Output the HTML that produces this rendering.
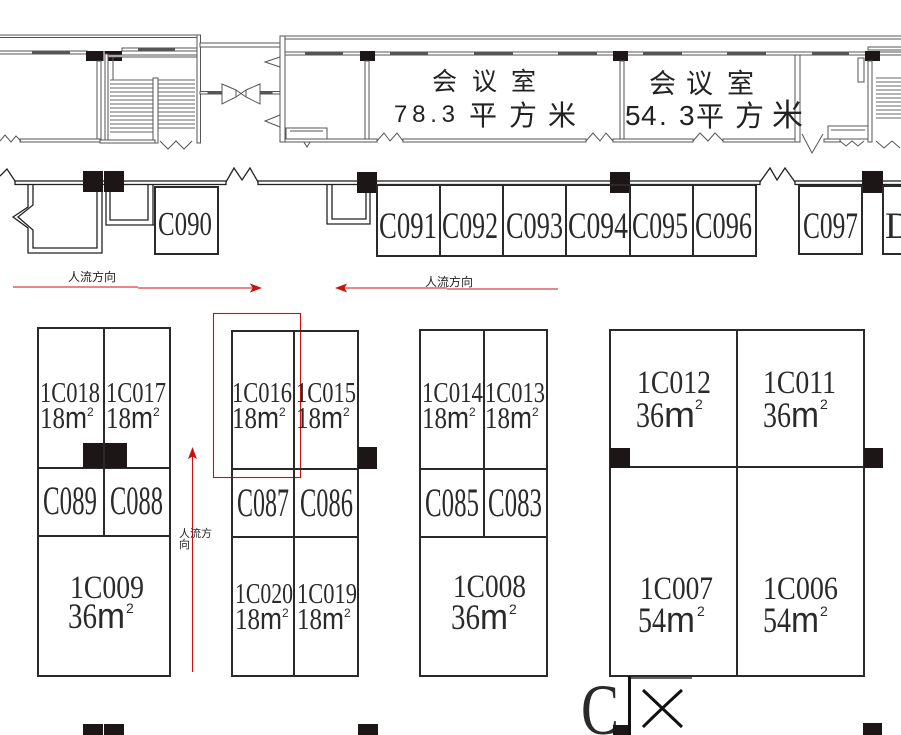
<!DOCTYPE html>
<html><head><meta charset="utf-8">
<style>
html,body{margin:0;padding:0;background:#fff;}
svg{display:block;}
.w{fill:#fff;stroke:#555;stroke-width:1;}
.wd{fill:#fff;stroke:#222;stroke-width:1.3;}
.ln{fill:none;stroke:#555;stroke-width:1;}
.lnd{fill:none;stroke:#222;stroke-width:1.3;}
.b{fill:none;stroke:#2a2a2a;stroke-width:2;}
.p{fill:#1c1616;}
.win{fill:#555;}
.t{font-family:"Liberation Serif",serif;fill:#2a2a2a;}
.s{font-family:"Liberation Sans",sans-serif;fill:#2a2a2a;}
.c{font-family:"Liberation Sans","Noto Sans CJK SC",sans-serif;fill:#222;}
.red{stroke:#cc1010;fill:none;stroke-width:1.1;}
.redf{fill:#cc1010;}
</style></head><body>
<svg width="901" height="735" viewBox="0 0 901 735" xmlns="http://www.w3.org/2000/svg">
<!-- ===== TOP BUILDING ===== -->
<rect class="w" x="-2" y="35" width="199" height="2.5"/>
<rect class="w" x="197" y="35" width="3.5" height="108"/>
<rect class="w" x="200" y="43" width="81" height="4"/>
<rect class="w" x="282" y="36" width="625" height="3"/>
<rect class="w" x="280" y="36" width="5" height="106"/>

<!-- inner wall with windows -->
<rect class="w" x="-2" y="51" width="89" height="3"/>
<rect class="win" x="32" y="51.5" width="38" height="2.5"/>
<rect class="w" x="122" y="48" width="75" height="3"/>
<rect class="win" x="138" y="48.5" width="37" height="2.5"/>
<rect class="w" x="285" y="52" width="620" height="3"/>
<rect class="win" x="305" y="52.5" width="38" height="2.5"/>
<rect class="win" x="390" y="52.5" width="38" height="2.5"/>
<rect class="win" x="474" y="52.5" width="39" height="2.5"/>
<rect class="win" x="558" y="52.5" width="39" height="2.5"/>
<rect class="win" x="643" y="52.5" width="39" height="2.5"/>
<rect class="win" x="727" y="52.5" width="39" height="2.5"/>
<rect class="win" x="812" y="52.5" width="37" height="2.5"/>
<rect class="w" x="868" y="47" width="40" height="3"/>

<!-- top pillars -->
<rect class="p" x="86" y="51" width="17.5" height="10"/>
<rect class="p" x="104.5" y="51" width="17.5" height="10"/>
<rect class="p" x="360" y="51" width="15" height="10"/>
<rect class="p" x="613" y="51" width="15" height="10"/>
<rect class="p" x="865" y="51" width="15" height="10"/>

<!-- top-left room -->
<rect class="w" x="97" y="61" width="4" height="81"/>
<rect class="w" x="20" y="139" width="81" height="3"/>
<polyline class="ln" points="0,141 5,135 11,142 16,136 21,141"/>

<!-- stairs left -->
<rect class="w" x="105" y="54" width="3" height="89"/>
<rect class="w" x="108" y="55" width="89" height="2"/>
<line class="ln" x1="113" y1="57" x2="113" y2="80"/>
<g stroke="#666" stroke-width="1">
<line x1="110" y1="80" x2="153" y2="80"/><line x1="110" y1="84" x2="153" y2="84"/><line x1="110" y1="88" x2="153" y2="88"/><line x1="110" y1="92" x2="153" y2="92"/><line x1="110" y1="96" x2="153" y2="96"/><line x1="110" y1="100" x2="153" y2="100"/><line x1="110" y1="104" x2="153" y2="104"/><line x1="110" y1="108" x2="153" y2="108"/><line x1="110" y1="112" x2="153" y2="112"/><line x1="110" y1="116" x2="153" y2="116"/><line x1="110" y1="120" x2="153" y2="120"/><line x1="110" y1="124" x2="153" y2="124"/><line x1="110" y1="128" x2="153" y2="128"/><line x1="110" y1="132" x2="153" y2="132"/>
<line x1="158" y1="80" x2="195" y2="80"/><line x1="158" y1="84" x2="195" y2="84"/><line x1="158" y1="88" x2="195" y2="88"/><line x1="158" y1="92" x2="195" y2="92"/><line x1="158" y1="96" x2="195" y2="96"/><line x1="158" y1="100" x2="195" y2="100"/><line x1="158" y1="104" x2="195" y2="104"/><line x1="158" y1="108" x2="195" y2="108"/><line x1="158" y1="112" x2="195" y2="112"/><line x1="158" y1="116" x2="195" y2="116"/><line x1="158" y1="120" x2="195" y2="120"/><line x1="158" y1="124" x2="195" y2="124"/><line x1="158" y1="128" x2="195" y2="128"/>
</g>
<rect class="w" x="153" y="78" width="5" height="65"/>
<rect class="w" x="100" y="140" width="55" height="3"/>
<polyline class="ln" points="160,141 168,149 176,141 184,149 192,141"/>

<!-- valve -->
<rect class="w" x="200" y="91.5" width="8" height="2.5"/>
<rect class="win" x="208" y="91" width="14" height="3.5"/>
<polygon class="ln" points="222,84 236,90 236,97 222,104"/>
<polygon class="ln" points="260,84 246,90 246,97 260,104"/>
<line class="ln" x1="236" y1="90" x2="246" y2="97"/>
<line class="ln" x1="236" y1="97" x2="246" y2="90"/>
<rect class="win" x="260" y="91" width="12" height="3.5"/>
<rect class="w" x="272" y="91.5" width="8" height="2.5"/>
<polyline class="ln" points="280,57 265,62 280,67"/>
<polyline class="ln" points="280,115 265,121 280,127"/>

<!-- room 78.3 -->
<rect class="w" x="365" y="61" width="4" height="80"/>
<rect class="w" x="286" y="128" width="41" height="11"/>
<line class="ln" x1="290" y1="131" x2="323" y2="131"/>
<polyline class="ln" points="302,139 307,147 312,139"/>
<rect class="w" x="285" y="139" width="92" height="3"/>
<polyline class="ln" points="377,141 384,133 390,141 397,133 403,141"/>
<rect class="w" x="403" y="139" width="183" height="3"/>
<polyline class="ln" points="586,141 593,133 600,141 606,133 613,141"/>
<rect class="w" x="620" y="61" width="4" height="80"/>
<rect class="w" x="613" y="139" width="80" height="3"/>
<polyline class="ln" points="693,141 700,133 708,141 715,133 723,141"/>
<rect class="w" x="723" y="139" width="77" height="3"/>
<rect class="w" x="795" y="55" width="5" height="87"/>
<polyline class="ln" points="802,134 812,153 823,134"/>
<rect class="w" x="824" y="139" width="16" height="3"/>
<polyline class="ln" points="840,141 846,146 852,141 858,146 864,141"/>
<rect class="w" x="828" y="126" width="40" height="13"/>
<line class="ln" x1="831" y1="130" x2="865" y2="130"/>
<rect class="w" x="858" y="58" width="6" height="24"/>
<rect class="w" x="868" y="61" width="4" height="81"/>
<g stroke="#666" stroke-width="1">
<line x1="876" y1="78" x2="901" y2="78"/><line x1="876" y1="82" x2="901" y2="82"/><line x1="876" y1="86" x2="901" y2="86"/><line x1="876" y1="90" x2="901" y2="90"/><line x1="876" y1="94" x2="901" y2="94"/><line x1="876" y1="98" x2="901" y2="98"/><line x1="876" y1="102" x2="901" y2="102"/><line x1="876" y1="106" x2="901" y2="106"/><line x1="876" y1="110" x2="901" y2="110"/><line x1="876" y1="114" x2="901" y2="114"/><line x1="876" y1="118" x2="901" y2="118"/>
</g>
<polyline class="ln" points="876,141 884,148 892,141 900,148"/>

<!-- room texts -->
<text class="c" x="432" y="90" font-size="25">会</text>
<text class="c" x="472" y="90" font-size="25">议</text>
<text class="c" x="511" y="90" font-size="25">室</text>
<text class="c" x="394" y="122" font-size="24" textLength="61" lengthAdjust="spacing">78.3</text>
<text class="c" x="469" y="125" font-size="28">平</text>
<text class="c" x="509" y="125" font-size="28">方</text>
<text class="c" x="548" y="125" font-size="28">米</text>
<text class="c" x="649" y="93" font-size="27">会</text>
<text class="c" x="686" y="93" font-size="27">议</text>
<text class="c" x="727" y="93" font-size="27">室</text>
<text class="c" x="625" y="125" font-size="28">5</text>
<text class="c" x="641" y="125" font-size="28">4</text>
<text class="c" x="659" y="125" font-size="28">.</text>
<text class="c" x="679" y="125" font-size="28">3</text>
<text class="c" x="696" y="126" font-size="28">平</text>
<text class="c" x="735" y="126" font-size="29">方</text>
<text class="c" x="772" y="126" font-size="31">米</text>

<!-- ===== CORRIDOR ===== -->
<polyline class="lnd" points="0,176 7,169 15,181"/>
<rect class="wd" x="15" y="181" width="211" height="3.5"/>
<polyline class="lnd" points="226,182 234,168 242,180 250,168 258,182"/>
<rect class="wd" x="258" y="181" width="502" height="3.5"/>
<polyline class="lnd" points="760,182 770,168 777,180 785,168 795,182"/>
<rect class="wd" x="795" y="181" width="112" height="3.5"/>

<!-- left corridor box -->
<path class="lnd" d="M28,185 V207 L13,217 L28,228 V253 H102 V185"/>
<path class="lnd" d="M33,185 V205 L18,217 L33,230 V248 H97 V185"/>
<path class="lnd" d="M106,185 V225 H155"/>
<path class="lnd" d="M110,185 V220 H148 V185"/>
<path class="lnd" d="M153,185 V225"/>
<path class="lnd" d="M327,185 V224 H370 V185"/>
<path class="lnd" d="M332,185 V219 H366 V185"/>

<rect class="p" x="83" y="171" width="20" height="21"/>
<rect class="p" x="104" y="171" width="20" height="21"/>
<rect class="p" x="357" y="172" width="20" height="21"/>
<rect class="p" x="610" y="172" width="20" height="21"/>
<rect class="p" x="862" y="171" width="21" height="22"/>

<!-- corridor booths -->
<rect class="b" x="155" y="187" width="63" height="67"/>
<rect class="b" x="377" y="185" width="379" height="71"/>
<line class="b" x1="440" y1="185" x2="440" y2="256"/>
<line class="b" x1="503" y1="185" x2="503" y2="256"/>
<line class="b" x1="566" y1="185" x2="566" y2="256"/>
<line class="b" x1="630" y1="185" x2="630" y2="256"/>
<line class="b" x1="693" y1="185" x2="693" y2="256"/>
<rect class="b" x="799" y="186" width="63" height="68"/>
<rect class="b" x="883" y="186" width="30" height="68"/>

<text class="t" x="158" y="235" font-size="34" textLength="54" lengthAdjust="spacingAndGlyphs">C090</text>
<text class="t" x="379" y="238" font-size="37" textLength="58" lengthAdjust="spacingAndGlyphs">C091</text>
<text class="t" x="442" y="238" font-size="37" textLength="56" lengthAdjust="spacingAndGlyphs">C092</text>
<text class="t" x="506" y="238" font-size="37" textLength="57" lengthAdjust="spacingAndGlyphs">C093</text>
<text class="t" x="568" y="238" font-size="37" textLength="60" lengthAdjust="spacingAndGlyphs">C094</text>
<text class="t" x="632" y="238" font-size="37" textLength="56" lengthAdjust="spacingAndGlyphs">C095</text>
<text class="t" x="695" y="238" font-size="37" textLength="57" lengthAdjust="spacingAndGlyphs">C096</text>
<text class="t" x="803" y="238" font-size="37" textLength="55" lengthAdjust="spacingAndGlyphs">C097</text>
<text class="t" x="885" y="238" font-size="37">D</text>

<!-- ===== FLOW ARROWS ===== -->
<text class="c" x="68" y="281" font-size="12">人流方向</text>
<path class="red" d="M13,287 H138 M138,288 H252"/>
<polygon class="redf" points="262,288 250,283.5 252.5,288 250,292.5"/>
<text class="c" x="425" y="286" font-size="12">人流方向</text>
<path class="red" d="M558,289 H447 M447,288 H343"/>
<polygon class="redf" points="335,288 347,283.5 344.5,288 347,292.5"/>
<path class="red" d="M192.5,672 V456"/>
<polygon class="redf" points="192.5,447 188,459 192.5,456.5 197,459"/>
<text class="c" x="179" y="537" font-size="11">人流方</text>
<text class="c" x="179" y="548" font-size="11">向</text>
<rect class="red" x="213.5" y="313.5" width="87" height="164"/>

<!-- ===== BOOTH BLOCKS ===== -->
<!-- block 1 -->
<rect class="b" x="38" y="328" width="132" height="348"/>
<line class="b" x1="104" y1="328" x2="104" y2="536"/>
<line class="b" x1="38" y1="468" x2="170" y2="468"/>
<line class="b" x1="38" y1="536" x2="170" y2="536"/>
<rect class="p" x="83" y="443" width="20" height="25"/>
<rect class="p" x="105" y="443" width="22" height="25"/>
<!-- block 2 -->
<rect class="b" x="232" y="331" width="126" height="345"/>
<line class="b" x1="294" y1="331" x2="294" y2="676"/>
<line class="b" x1="232" y1="469" x2="358" y2="469"/>
<line class="b" x1="232" y1="537" x2="358" y2="537"/>
<rect class="p" x="358" y="447" width="19" height="22"/>
<!-- block 3 -->
<rect class="b" x="420" y="330" width="127" height="346"/>
<line class="b" x1="484" y1="330" x2="484" y2="537"/>
<line class="b" x1="420" y1="469" x2="547" y2="469"/>
<line class="b" x1="420" y1="537" x2="547" y2="537"/>
<!-- block 4 -->
<rect class="b" x="610" y="330" width="254" height="346"/>
<line class="b" x1="737" y1="330" x2="737" y2="676"/>
<line class="b" x1="610" y1="467" x2="864" y2="467"/>
<rect class="p" x="610" y="448" width="20" height="20"/>
<rect class="p" x="864" y="448" width="19" height="20"/>

<!-- 18m2 labels -->
<g class="t" font-size="28">
<text x="40" y="402" textLength="60" lengthAdjust="spacingAndGlyphs">1C018</text>
<text x="106" y="402" textLength="60" lengthAdjust="spacingAndGlyphs">1C017</text>
<text x="232" y="402" textLength="60" lengthAdjust="spacingAndGlyphs">1C016</text>
<text x="296" y="402" textLength="60" lengthAdjust="spacingAndGlyphs">1C015</text>
<text x="422" y="402" textLength="61" lengthAdjust="spacingAndGlyphs">1C014</text>
<text x="485" y="402" textLength="60" lengthAdjust="spacingAndGlyphs">1C013</text>
<text x="235" y="603" textLength="58" lengthAdjust="spacingAndGlyphs">1C020</text>
<text x="297" y="603" textLength="60" lengthAdjust="spacingAndGlyphs">1C019</text>
</g>
<g font-size="31">
<text class="t" x="40" y="428" textLength="25" lengthAdjust="spacingAndGlyphs">18</text><text class="s" x="65" y="428" textLength="22" lengthAdjust="spacingAndGlyphs">m</text><text class="s" x="87" y="416" font-size="12">2</text>
<text class="t" x="106" y="428" textLength="25" lengthAdjust="spacingAndGlyphs">18</text><text class="s" x="131" y="428" textLength="22" lengthAdjust="spacingAndGlyphs">m</text><text class="s" x="153" y="416" font-size="12">2</text>
<text class="t" x="232" y="428" textLength="25" lengthAdjust="spacingAndGlyphs">18</text><text class="s" x="257" y="428" textLength="22" lengthAdjust="spacingAndGlyphs">m</text><text class="s" x="279" y="416" font-size="12">2</text>
<text class="t" x="296" y="428" textLength="25" lengthAdjust="spacingAndGlyphs">18</text><text class="s" x="321" y="428" textLength="22" lengthAdjust="spacingAndGlyphs">m</text><text class="s" x="343" y="416" font-size="12">2</text>
<text class="t" x="422" y="428" textLength="25" lengthAdjust="spacingAndGlyphs">18</text><text class="s" x="447" y="428" textLength="22" lengthAdjust="spacingAndGlyphs">m</text><text class="s" x="469" y="416" font-size="12">2</text>
<text class="t" x="485" y="428" textLength="25" lengthAdjust="spacingAndGlyphs">18</text><text class="s" x="510" y="428" textLength="22" lengthAdjust="spacingAndGlyphs">m</text><text class="s" x="532" y="416" font-size="12">2</text>
<text class="t" x="235" y="629" textLength="25" lengthAdjust="spacingAndGlyphs">18</text><text class="s" x="260" y="629" textLength="22" lengthAdjust="spacingAndGlyphs">m</text><text class="s" x="282" y="617" font-size="12">2</text>
<text class="t" x="297" y="629" textLength="25" lengthAdjust="spacingAndGlyphs">18</text><text class="s" x="322" y="629" textLength="22" lengthAdjust="spacingAndGlyphs">m</text><text class="s" x="344" y="617" font-size="12">2</text>
</g>

<!-- C08x labels -->
<g class="t" font-size="40">
<text x="43" y="514" textLength="54" lengthAdjust="spacingAndGlyphs">C089</text>
<text x="110" y="514" textLength="53" lengthAdjust="spacingAndGlyphs">C088</text>
<text x="237" y="516" textLength="52" lengthAdjust="spacingAndGlyphs">C087</text>
<text x="300" y="516" textLength="53" lengthAdjust="spacingAndGlyphs">C086</text>
<text x="425" y="516" textLength="54" lengthAdjust="spacingAndGlyphs">C085</text>
<text x="488" y="516" textLength="54" lengthAdjust="spacingAndGlyphs">C083</text>
</g>

<!-- big booth labels -->
<g class="t" font-size="33">
<text x="70" y="598" textLength="74" lengthAdjust="spacingAndGlyphs">1C009</text>
<text x="453" y="597" textLength="73" lengthAdjust="spacingAndGlyphs">1C008</text>
<text x="637" y="393" textLength="74" lengthAdjust="spacingAndGlyphs">1C012</text>
<text x="763" y="393" textLength="73" lengthAdjust="spacingAndGlyphs">1C011</text>
<text x="640" y="599" textLength="73" lengthAdjust="spacingAndGlyphs">1C007</text>
<text x="763" y="599" textLength="75" lengthAdjust="spacingAndGlyphs">1C006</text>
</g>
<g font-size="36">
<text class="t" x="68" y="628" textLength="29" lengthAdjust="spacingAndGlyphs">36</text><text class="s" x="97" y="628" textLength="28" lengthAdjust="spacingAndGlyphs">m</text><text class="s" x="126" y="613" font-size="14">2</text>
<text class="t" x="451" y="629" textLength="29" lengthAdjust="spacingAndGlyphs">36</text><text class="s" x="480" y="629" textLength="28" lengthAdjust="spacingAndGlyphs">m</text><text class="s" x="509" y="614" font-size="14">2</text>
<text class="t" x="636" y="427" textLength="28" lengthAdjust="spacingAndGlyphs">36</text><text class="s" x="664" y="427" textLength="31" lengthAdjust="spacingAndGlyphs">m</text><text class="s" x="695" y="409" font-size="14">2</text>
<text class="t" x="763" y="427" textLength="28" lengthAdjust="spacingAndGlyphs">36</text><text class="s" x="791" y="427" textLength="28" lengthAdjust="spacingAndGlyphs">m</text><text class="s" x="820" y="409" font-size="14">2</text>
<text class="t" x="638" y="632" textLength="28" lengthAdjust="spacingAndGlyphs">54</text><text class="s" x="666" y="632" textLength="29" lengthAdjust="spacingAndGlyphs">m</text><text class="s" x="697" y="616" font-size="14">2</text>
<text class="t" x="763" y="632" textLength="28" lengthAdjust="spacingAndGlyphs">54</text><text class="s" x="791" y="632" textLength="28" lengthAdjust="spacingAndGlyphs">m</text><text class="s" x="820" y="616" font-size="14">2</text>
</g>

<!-- ===== BOTTOM ===== -->
<text class="t" x="581" y="734" font-size="72" textLength="38" lengthAdjust="spacingAndGlyphs" fill="#111">C</text>
<rect x="628" y="676" width="3" height="60" fill="#111"/>
<line x1="631" y1="678" x2="692" y2="678" stroke="#333" stroke-width="1.5"/>
<path d="M643,690 Q662,708 682,727 M682,690 Q660,710 643,727" stroke="#111" stroke-width="3" fill="none"/>
<rect class="p" x="613" y="725" width="15" height="10"/>
<rect class="p" x="863" y="723" width="19" height="12"/>
<rect class="p" x="83" y="724" width="20" height="11"/>
<rect class="p" x="104" y="724" width="20" height="11"/>
<rect class="p" x="358" y="724" width="20" height="11"/>
</svg>
</body></html>
